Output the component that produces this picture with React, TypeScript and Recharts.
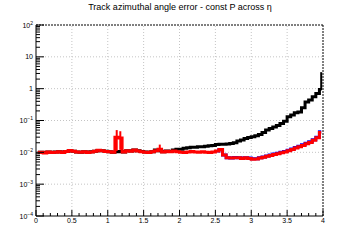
import { LineChart, Line, XAxis, YAxis, ReferenceLine, ErrorBar } from 'recharts';

const FONT = '"Liberation Sans", Arial, sans-serif';

// eta binning: 80 bins of 0.05 from 0 to 4
const BIN_WIDTH = 0.05;

// sigma(phi) per eta bin, const P sample
const blackErr = [
  0.0100, 0.0101, 0.0098, 0.0103, 0.0099, 0.0102, 0.0105, 0.0100, 0.0106, 0.0113,
  0.0108, 0.0103, 0.0101, 0.0104, 0.0100, 0.0104, 0.0108, 0.0114, 0.0112, 0.0108,
  0.0105, 0.0101, 0.0104, 0.0106, 0.0103, 0.0112, 0.0110, 0.0118, 0.0112, 0.0106,
  0.0102, 0.0100, 0.0105, 0.0118, 0.0112, 0.0104, 0.0110, 0.0106, 0.0118, 0.0124,
  0.0125, 0.0135, 0.0140, 0.0145, 0.0145, 0.0150, 0.0150, 0.0155, 0.0160, 0.0165,
  0.0175, 0.0180, 0.0178, 0.0182, 0.0190, 0.0200, 0.0225, 0.0245, 0.0270, 0.0295,
  0.0310, 0.0330, 0.0360, 0.0420, 0.0500, 0.0560, 0.0620, 0.0700, 0.0800, 0.0950,
  0.130, 0.150, 0.175, 0.185, 0.250, 0.380, 0.440, 0.560, 0.700, 0.950,
];

const redErr = [
  0.0098, 0.0100, 0.0096, 0.0102, 0.0098, 0.0101, 0.0104, 0.0099, 0.0106, 0.0114,
  0.0108, 0.0102, 0.0100, 0.0104, 0.0099, 0.0103, 0.0108, 0.0116, 0.0112, 0.0106,
  0.0104, 0.0100, 0.0300, 0.0280, 0.0102, 0.0112, 0.0108, 0.0118, 0.0110, 0.0104,
  0.0100, 0.0098, 0.0104, 0.0112, 0.0125, 0.0102, 0.0108, 0.0104, 0.0110, 0.0105,
  0.0100, 0.0098, 0.0102, 0.0106, 0.0102, 0.0100, 0.0104, 0.0101, 0.0098, 0.0102,
  0.0110, 0.0122, 0.0082, 0.0068, 0.0066, 0.0067, 0.0068, 0.0064, 0.0067, 0.0064,
  0.0061, 0.0062, 0.0066, 0.0070, 0.0075, 0.0080, 0.0086, 0.0090, 0.0097, 0.0102,
  0.0112, 0.0122, 0.0138, 0.0150, 0.0165, 0.0185, 0.0205, 0.0240, 0.0285, 0.0420,
];

// blue only shows above red in the forward region
const blueErr = [
  null, null, null, null, null, null, null, null, null, null,
  null, null, null, null, null, null, null, null, null, null,
  null, null, null, null, null, null, null, null, null, null,
  null, null, null, null, null, null, null, null, null, null,
  null, null, null, null, null, null, null, null, null, null,
  0.0110, 0.0122, 0.0082, 0.0068, 0.0066, 0.0069, 0.0068, 0.0066, 0.0067, 0.0066,
  0.0063, 0.0063, 0.0068, 0.0072, 0.0077, 0.0083, 0.0088, 0.0093, 0.0100, 0.0106,
  0.0116, 0.0127, 0.0143, 0.0156, 0.0172, 0.0192, 0.0214, 0.0250, 0.0300, 0.0440,
];

// statistical error bars [down, up], only the large ones
const redBars: Record<number, [number, number]> = {
  22: [0.019, 0.020],
  23: [0.016, 0.018],
  34: [0.002, 0.005],
};
const blackBars: Record<number, [number, number]> = {
  79: [0.05, 2.35],
};

const xMajor = [0, 0.5, 1, 1.5, 2, 2.5, 3, 3.5, 4];
const yExponents = [-4, -3, -2, -1, 0, 1, 2];
const xGrid = [0.5, 1, 1.5, 2, 2.5, 3, 3.5];
const yGrid = [1e-3, 1e-2, 1e-1, 1, 10];

const xTicks: number[] = [];
for (let i = 0; i <= 40; i++) xTicks.push(i / 10);
const yTicks: number[] = [];
for (let e = -4; e < 2; e++) for (let m = 1; m <= 9; m++) yTicks.push(m * Math.pow(10, e));
yTicks.push(100);

const rows = blackErr.map((b, i) => ({
  eta: BIN_WIDTH * (i + 0.5),
  black: b,
  red: redErr[i],
  blue: blueErr[i],
  redBar: redBars[i] ?? [0, 0],
  blackBar: blackBars[i] ?? [0, 0],
}));

const isMajorX = (v: number) => xMajor.some((m) => Math.abs(m - v) < 1e-6);

const XTick = (props: any) => {
  const { x, y, payload } = props;
  const v = payload.value as number;
  const major = isMajorX(v);
  return (
    <g>
      <line x1={x} y1={y} x2={x} y2={y - (major ? 6 : 3)} stroke="#000" />
      {major && (
        <text x={x} y={y + 7} textAnchor="middle" fontSize={7} fontFamily={FONT} fill="#000">
          {String(Math.round(v * 10) / 10)}
        </text>
      )}
    </g>
  );
};

const YTick = (props: any) => {
  const { x, y, payload } = props;
  const v = payload.value as number;
  const lg = Math.log10(v);
  const exp = Math.round(lg);
  const major = Math.abs(lg - exp) < 1e-6 && yExponents.includes(exp);
  let label: any = null;
  if (major) {
    if (exp === 0) label = <tspan>1</tspan>;
    else if (exp === 1) label = <tspan>10</tspan>;
    else
      label = (
        <>
          <tspan>10</tspan>
          <tspan dy={-3} fontSize={5}>{exp < 0 ? `\u2212${-exp}` : exp}</tspan>
        </>
      );
  }
  return (
    <g>
      <line x1={x} y1={y} x2={x + (major ? 8 : 4)} y2={y} stroke="#000" />
      {major && (
        <text x={x - 3} y={y + 2.5} textAnchor="end" fontSize={7} fontFamily={FONT} fill="#000">
          {label}
        </text>
      )}
    </g>
  );
};

export default function App() {
  return (
    <div style={{ position: 'absolute', left: 0, top: 0, width: 360, height: 240, background: '#fff' }}>
      <div
        style={{
          position: 'absolute',
          top: 2,
          left: 0,
          width: 360,
          textAlign: 'center',
          fontFamily: FONT,
          fontSize: 9,
          color: '#000',
        }}
      >
        Track azimuthal angle error - const P across η
      </div>
      <LineChart width={360} height={240} data={rows} margin={{ top: 25, right: 37, bottom: 0, left: 0 }}>
        <XAxis
          dataKey="eta"
          type="number"
          domain={[0, 4]}
          ticks={xTicks}
          interval={0}
          height={24}
          tickSize={0}
          tickMargin={0}
          tickLine={false}
          axisLine={{ stroke: '#000' }}
          tick={<XTick />}
          allowDataOverflow
        />
        <YAxis
          scale="log"
          type="number"
          domain={[1e-4, 100]}
          ticks={yTicks}
          interval={0}
          width={36}
          tickSize={0}
          tickMargin={0}
          tickLine={false}
          axisLine={{ stroke: '#000' }}
          tick={<YTick />}
          allowDataOverflow
        />
        {xGrid.map((v) => (
          <ReferenceLine key={`gx${v}`} x={v} stroke="#c4c4c4" strokeDasharray="1 2" />
        ))}
        {yGrid.map((v) => (
          <ReferenceLine key={`gy${v}`} y={v} stroke="#c4c4c4" strokeDasharray="1 2" />
        ))}
        <ReferenceLine y={100} stroke="#000" strokeDasharray="2 1" />
        <ReferenceLine x={4} stroke="#000" strokeDasharray="2 1" />
        <Line type="step" dataKey="black" stroke="#000" strokeWidth={3} dot={false} isAnimationActive={false}>
          <ErrorBar dataKey="blackBar" direction="y" width={0} stroke="#000" strokeWidth={2} />
        </Line>
        <Line type="step" dataKey="blue" stroke="#0000ff" strokeWidth={3} dot={false} isAnimationActive={false} />
        <Line type="step" dataKey="red" stroke="#ff0000" strokeWidth={3} dot={false} isAnimationActive={false}>
          <ErrorBar dataKey="redBar" direction="y" width={0} stroke="#ff0000" strokeWidth={2} />
        </Line>
      </LineChart>
    </div>
  );
}
